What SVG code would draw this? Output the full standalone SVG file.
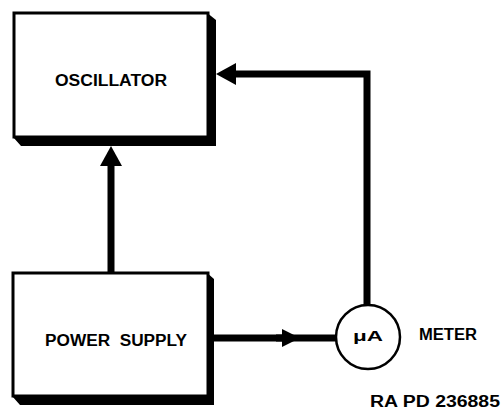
<svg xmlns="http://www.w3.org/2000/svg" width="501" height="410" viewBox="0 0 501 410">
<style>
.box{fill:#fff;stroke:#000;stroke-width:3}
.shadow{fill:#000}
.wire{fill:none;stroke:#000;stroke-width:7}
.lbl{font-family:"Liberation Sans",Arial,sans-serif;font-weight:bold;fill:#000}
</style>
<defs>
<marker id="ah" viewBox="0 0 20 22" refX="0" refY="11" markerWidth="20" markerHeight="22" markerUnits="userSpaceOnUse" orient="auto">
<path d="M0,0 L20,11 L0,22 Z" fill="#000"/>
</marker>
<marker id="ahs" viewBox="0 0 18 18" refX="0" refY="9" markerWidth="18" markerHeight="18" markerUnits="userSpaceOnUse" orient="auto">
<path d="M0,0 L18,9 L0,18 Z" fill="#000"/>
</marker>
</defs>
<rect width="501" height="410" fill="#fff"/>
<g id="oscillator">
<polygon class="shadow" points="206,12 216,20 216,146 21,146 13,137 208,137 208,12"/>
<rect class="box" x="14" y="13" width="194" height="124"/>
<text class="lbl" x="111" y="86" font-size="16" text-anchor="middle" textLength="112" lengthAdjust="spacingAndGlyphs">OSCILLATOR</text>
</g>
<g id="power-supply">
<polygon class="shadow" points="206,272 214,279 214,405 20,405 12,396 208,396 208,272"/>
<rect class="box" x="13" y="273" width="195" height="123"/>
<text class="lbl" x="116" y="346" font-size="16" text-anchor="middle" textLength="142" lengthAdjust="spacingAndGlyphs">POWER&#160;&#160;SUPPLY</text>
</g>
<g id="meter">
<circle cx="368" cy="337" r="32" fill="#fff" stroke="#000" stroke-width="2.5"/>
<text class="lbl" x="368" y="341" font-size="15" text-anchor="middle" textLength="30" lengthAdjust="spacingAndGlyphs">μA</text>
<text class="lbl" x="448" y="340" font-size="16" text-anchor="middle" textLength="58" lengthAdjust="spacingAndGlyphs">METER</text>
</g>
<g id="connectors">
<line class="wire" x1="111" y1="273" x2="111" y2="166" marker-end="url(#ah)"/>
<polyline class="wire" points="367,305 367,74 236,74" marker-end="url(#ah)"/>
<line class="wire" x1="214" y1="338" x2="336" y2="338"/>
<line class="wire" x1="276" y1="338" x2="282" y2="338" marker-end="url(#ahs)"/>
</g>
<text class="lbl" x="500" y="407" font-size="16" font-weight="600" text-anchor="end" textLength="130" lengthAdjust="spacingAndGlyphs">RA PD 236885</text>
</svg>
